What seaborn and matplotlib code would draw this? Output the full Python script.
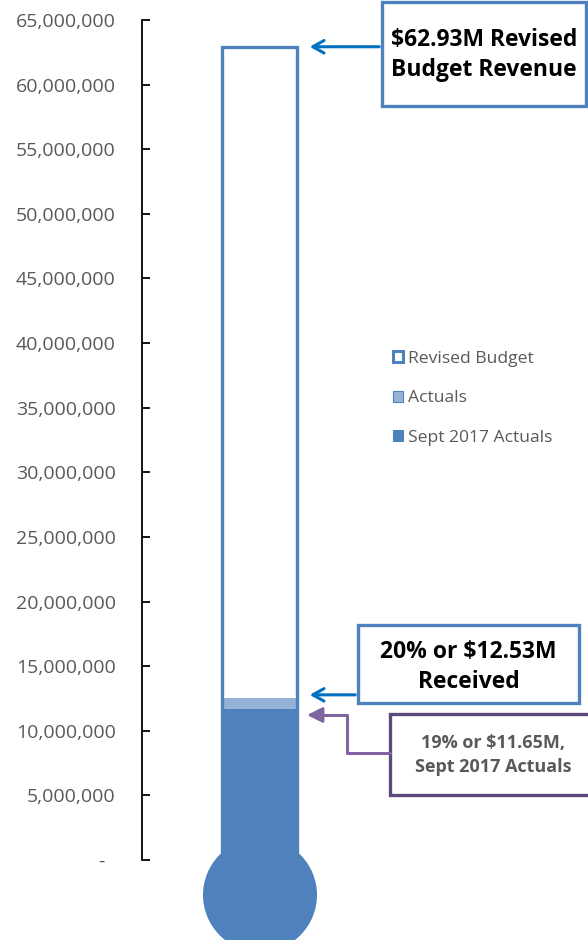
import numpy as np
import pandas as pd
import matplotlib
matplotlib.use('Agg')
import matplotlib.pyplot as plt
import seaborn as sns
from matplotlib.patches import Patch, Rectangle, Ellipse
from matplotlib.lines import Line2D
from matplotlib.ticker import FuncFormatter, MultipleLocator

# Werte (in $)
kategorie = ['Revenue']
revised_budget = [62930000]
actuals = [12530000]
sept_actuals = [11650000]
legend_labels = ['Revised Budget', 'Actuals', 'Sept 2017 Actuals']

BLAU = '#4F81BD'
HELLBLAU = '#95B3D7'
PFEIL_BLAU = '#0070C0'
LILA = '#8064A2'
LILA_DUNKEL = '#5F497A'
GRAU = '#595959'

sns.set_style('white')
plt.rcParams['font.family'] = ['Open Sans', 'DejaVu Sans']

W, H = 588, 940
fig = plt.figure(figsize=(W / 100, H / 100), dpi=100)
ax = fig.add_axes([142 / W, (H - 860) / H, (W - 142) / W, 840 / H])

def fx(px):
    return px / W

def fy(py):
    return 1 - py / H

# thermometer: erst die Füllungen, dann die Umrandung
df_act = pd.DataFrame({'k': kategorie, 'v': actuals})
sns.barplot(data=df_act, x='k', y='v', color=HELLBLAU, saturation=1, errorbar=None,
            linewidth=0, ax=ax)
sns.barplot(x=kategorie, y=sept_actuals, color=BLAU, saturation=1, errorbar=None,
            linewidth=0, ax=ax)
sns.barplot(x=kategorie, y=revised_budget, color=BLAU, saturation=1, errorbar=None,
            fill=False, linewidth=2.4, ax=ax)

ax.set_xlim(-117.5 / 93.75, (446 - 117.5) / 93.75)
ax.set_ylim(0, 65000000)
ax.yaxis.set_major_locator(MultipleLocator(5000000))
ax.yaxis.set_major_formatter(FuncFormatter(lambda v, p: '-  ' if v == 0 else f'{v:,.0f}'))
ax.tick_params(axis='y', direction='in', length=6, width=1.3, color='black',
               labelsize=14, labelcolor=GRAU, pad=19, left=True)
ax.set_xticks([])
ax.set_xlabel('')
ax.set_ylabel('')
for s in ['top', 'right', 'bottom']:
    ax.spines[s].set_visible(False)
ax.spines['left'].set_color('black')
ax.spines['left'].set_linewidth(1.3)

# Kugel unten
fig.add_artist(Ellipse((fx(260), fy(895)), 114 / W, 114 / H, color=BLAU, lw=0))

# Legende
handles = [Patch(facecolor='white', edgecolor=BLAU, linewidth=2.2),
           Patch(facecolor=HELLBLAU, edgecolor=BLAU, linewidth=0.8),
           Patch(facecolor=BLAU, edgecolor=BLAU, linewidth=0.8)]
fig.legend(handles, legend_labels, loc='upper left', bbox_to_anchor=(fx(377), fy(335)),
           frameon=False, fontsize=12.6, labelcolor=GRAU, handlelength=0.6,
           handleheight=0.6, handletextpad=0.25, labelspacing=1.35)

# Textboxen
def box(x0, y0, x1, y1, farbe):
    fig.add_artist(Rectangle((fx(x0), fy(y1)), fx(x1) - fx(x0), fy(y0) - fy(y1),
                             facecolor='white', edgecolor=farbe, linewidth=2.4))

box(382, 2, 586, 106, BLAU)
fig.text(fx(484), fy(55), f'${revised_budget[0] / 1e6:.2f}M Revised\nBudget Revenue',
         ha='center', va='center', fontsize=16.5, fontweight='bold', color='black',
         linespacing=1.38)

box(358, 625, 579, 703, BLAU)
anteil = actuals[0] / revised_budget[0] * 100
fig.text(fx(468.5), fy(667), f'{anteil:.0f}% or ${actuals[0] / 1e6:.2f}M\nReceived',
         ha='center', va='center', fontsize=16.5, fontweight='bold', color='black',
         linespacing=1.32)

box(390, 714, 620, 795, LILA_DUNKEL)
anteil_sept = sept_actuals[0] / revised_budget[0] * 100
fig.text(fx(493), fy(755), f'{anteil_sept:.0f}% or ${sept_actuals[0] / 1e6:.2f}M,\nSept 2017 Actuals',
         ha='center', va='center', fontsize=13, fontweight='bold', color=GRAU,
         linespacing=1.42)

# Pfeile
ax.annotate('', xy=(307, revised_budget[0]), xycoords=('figure pixels', 'data'),
            xytext=(382, revised_budget[0]), textcoords=('figure pixels', 'data'),
            arrowprops=dict(arrowstyle='->,head_length=0.8,head_width=0.45',
                            color=PFEIL_BLAU, lw=2.2))
ax.annotate('', xy=(307, actuals[0] + 250000), xycoords=('figure pixels', 'data'),
            xytext=(358, actuals[0] + 250000), textcoords=('figure pixels', 'data'),
            arrowprops=dict(arrowstyle='->,head_length=0.8,head_width=0.45',
                            color=PFEIL_BLAU, lw=2.2))

# Winkelverbinder lila
fig.add_artist(Line2D([fx(390), fx(347), fx(347), fx(318)],
                      [fy(753), fy(753), fy(715), fy(715)], color=LILA, lw=2.2))
ax.annotate('', xy=(307, 940 - 715), xycoords='figure pixels',
            xytext=(322, 940 - 715), textcoords='figure pixels',
            arrowprops=dict(arrowstyle='-|>,head_length=0.9,head_width=0.45',
                            color=LILA, lw=2.2, shrinkA=0, shrinkB=0))

fig.savefig('out.png', dpi=100)
